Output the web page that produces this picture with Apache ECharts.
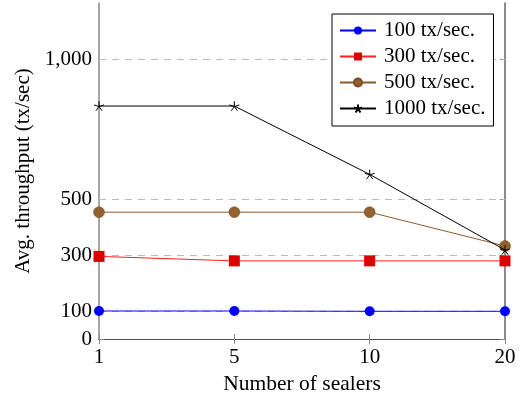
<!DOCTYPE html>
<html>
<head>
<meta charset="utf-8">
<script src="https://cdn.jsdelivr.net/npm/echarts@6/dist/echarts.min.js"></script>
<style>html,body{margin:0;padding:0;background:#fff}#c{width:522px;height:397px}</style>
</head>
<body>
<div id="c"></div>
<script>
var categories = ['1', '5', '10', '20'];
var s100 = [100, 100, 99, 99];
var s300 = [295, 279, 279, 279];
var s500 = [453, 453, 453, 332];
var s1000 = [832, 832, 588, 318];
var yTicks = [0, 100, 300, 500, 1000];
var gridTicks = [100, 300, 500, 1000];
var seriesNames = ['100 tx/sec.', '300 tx/sec.', '500 tx/sec.', '1000 tx/sec.'];

var FONT = 'Liberation Serif';
var chart = echarts.init(document.getElementById('c'), null, {renderer: 'canvas'});
var star = 'path://M0,0L0,-5M0,0L4.76,-1.55M0,0L2.94,4.05M0,0L-2.94,4.05M0,0L-4.76,-1.55';

chart.setOption({
  animation: false,
  backgroundColor: '#fff',
  grid: {left: 99, right: 17, top: 3, bottom: 58, containLabel: false, outerBoundsMode: 'none'},
  legend: {
    orient: 'vertical',
    left: 332, top: 14,
    padding: [6, 8, 7, 7],
    itemGap: 5,
    itemWidth: 36, itemHeight: 10,
    borderColor: '#000', borderWidth: 1,
    backgroundColor: '#fff',
    textStyle: {fontFamily: FONT, fontSize: 21, color: '#000', padding: [0, 0, 0, 3]},
    data: seriesNames
  },
  xAxis: [{
    type: 'category', data: categories, boundaryGap: false,
    name: 'Number of sealers', nameLocation: 'middle', nameGap: 33,
    nameTextStyle: {fontFamily: FONT, fontSize: 21.5, color: '#000'},
    axisLine: {lineStyle: {color: '#000', width: 1}},
    axisTick: {inside: true, length: 5, lineStyle: {color: '#888'}},
    axisLabel: {fontFamily: FONT, fontSize: 21, color: '#000', margin: 8,
      showMinLabel: true, showMaxLabel: true},
    splitLine: {show: false}
  }, {
    type: 'category', data: categories, boundaryGap: false, position: 'top',
    axisLine: {lineStyle: {color: '#555', width: 1}},
    axisTick: {inside: true, length: 5, lineStyle: {color: '#888'}},
    axisLabel: {show: false}, splitLine: {show: false}
  }],
  yAxis: [{
    type: 'value', min: 0, max: 1200, interval: 100,
    name: 'Avg. throughput (tx/sec)', nameLocation: 'middle', nameGap: 64,
    nameTextStyle: {fontFamily: FONT, fontSize: 21, color: '#000'},
    axisLine: {show: true, lineStyle: {color: '#888', width: 1.5}},
    axisTick: {show: true, inside: true, length: 5, customValues: yTicks, lineStyle: {color: '#888'}},
    axisLabel: {fontFamily: FONT, fontSize: 21, color: '#000', margin: 7,
      customValues: yTicks,
      formatter: function (v) { return v >= 1000 ? echarts.format.addCommas(v) : String(v); }},
    splitLine: {show: false}
  }, {
    type: 'value', min: 0, max: 1200, interval: 100, position: 'right',
    axisLine: {show: true, lineStyle: {color: '#666', width: 1.5}},
    axisTick: {show: true, inside: true, length: 5, customValues: yTicks, lineStyle: {color: '#888'}},
    axisLabel: {show: false}, splitLine: {show: false}
  }],
  series: [{
    name: seriesNames[0], type: 'line', data: s100,
    symbol: 'circle', symbolSize: 10, showAllSymbol: true,
    itemStyle: {color: '#0000ff'}, lineStyle: {color: '#0000ff', width: 1},
    markLine: {
      silent: true, symbol: 'none', label: {show: false}, z: 1,
      lineStyle: {color: '#bbbbbb', type: [7, 6], width: 1},
      data: gridTicks.map(function (t) { return {yAxis: t}; })
    },
    z: 3
  }, {
    name: seriesNames[1], type: 'line', data: s300,
    symbol: 'rect', symbolSize: 11,
    itemStyle: {color: '#dd0000'}, lineStyle: {color: '#ff2020', width: 1}, z: 3
  }, {
    name: seriesNames[2], type: 'line', data: s500,
    symbol: 'circle', symbolSize: 11,
    itemStyle: {color: '#93602f', borderColor: '#7a4d22', borderWidth: 0.5}, lineStyle: {color: '#8b5a2b', width: 1}, z: 3
  }, {
    name: seriesNames[3], type: 'line', data: s1000,
    symbol: star, symbolSize: 10, symbolKeepAspect: true,
    itemStyle: {color: 'rgba(0,0,0,0)', borderColor: '#000', borderWidth: 1},
    lineStyle: {color: '#000', width: 1}, z: 4
  }]
});
</script>
</body>
</html>
